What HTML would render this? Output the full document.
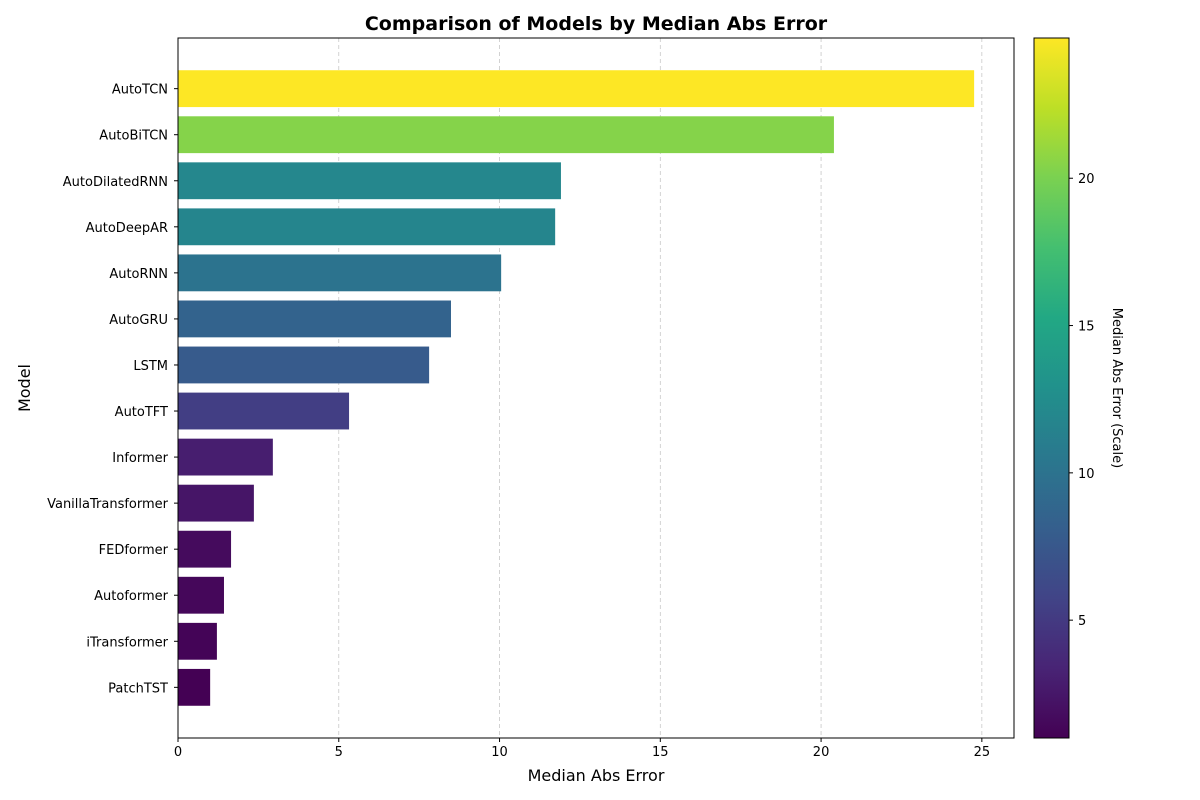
<!DOCTYPE html>
<html><head><meta charset="utf-8"><style>
body{margin:0;background:#fff;}
svg{display:block;font-family:"DejaVu Sans","Liberation Sans",sans-serif;}
</style></head><body>
<svg id="c" width="1200" height="800"></svg>
<script>
const models=["AutoTCN","AutoBiTCN","AutoDilatedRNN","AutoDeepAR","AutoRNN","AutoGRU","LSTM","AutoTFT","Informer","VanillaTransformer","FEDformer","Autoformer","iTransformer","PatchTST"];
const errors=[24.76,20.4,11.91,11.73,10.05,8.49,7.81,5.32,2.95,2.36,1.65,1.43,1.21,1.0];
const xTicks=[0,5,10,15,20,25];
const cbTicks=[5,10,15,20];
const viridis=["#440154","#482475","#414487","#355f8d","#2a788e","#21918c","#22a884","#44bf70","#7ad151","#bddf26","#fde725"];
const NS="http://www.w3.org/2000/svg";
const svg=document.getElementById('c');
function el(t,a,txt){const e=document.createElementNS(NS,t);for(const k in a)e.setAttribute(k,a[k]);if(txt!==undefined)e.textContent=txt;svg.appendChild(e);return e;}
const L=178,R=1014,T=38,B=738,xMax=26;
const xs=v=>L+v*(R-L)/xMax;
const step=(B-T)/(models.length+1.2);
const yc=i=>T+step*(1.1+i);
const vmin=Math.min(...errors),vmax=Math.max(...errors);
function hex(h){return [1,3,5].map(i=>parseInt(h.substr(i,2),16));}
function cmap(t){t=Math.max(0,Math.min(1,t));const p=t*10,i=Math.min(9,Math.floor(p)),f=p-i;const a=hex(viridis[i]),b=hex(viridis[i+1]);return `rgb(${a.map((v,k)=>Math.round(v+(b[k]-v)*f)).join(',')})`;}
xTicks.forEach(v=>{let g=el('line',{x1:xs(v),x2:xs(v),y1:T,y2:B,stroke:'#b0b0b0','stroke-dasharray':'4,3','stroke-width':0.8,opacity:0.7});});
models.forEach((m,i)=>{
 const h=step*0.8;
 let r=el('rect',{x:L,y:yc(i)-h/2,width:xs(errors[i])-L,height:h,fill:cmap((errors[i]-vmin)/(vmax-vmin))});
 
 
 let t=el('text',{x:L-10,y:yc(i)+5,'text-anchor':'end','font-size':13},m);
 
 
 el('line',{x1:L-4,x2:L,y1:yc(i),y2:yc(i),stroke:'#000'});
});
xTicks.forEach(v=>{
 el('line',{x1:xs(v),x2:xs(v),y1:B,y2:B+4,stroke:'#000'});
 let t=el('text',{x:xs(v),y:B+18,'text-anchor':'middle','font-size':13},v);
 
 
});
let fr=el('rect',{x:L,y:T,width:R-L,height:B-T,fill:'none',stroke:'#000','stroke-width':1});

let ti=el('text',{x:(L+R)/2,y:30,'text-anchor':'middle','font-size':19,'font-weight':'bold'},'Comparison of Models by Median Abs Error');

let xt=el('text',{x:(L+R)/2,y:781,'text-anchor':'middle','font-size':16},'Median Abs Error');

let yt=el('text',{x:30,y:388,'text-anchor':'middle','font-size':16,transform:'rotate(-90 30 388)'},'Model');

const CX=1034,CW=35;
const defs=el('defs',{});
const lg=document.createElementNS(NS,'linearGradient');lg.setAttribute('id','vg');lg.setAttribute('x1','0');lg.setAttribute('y1','1');lg.setAttribute('x2','0');lg.setAttribute('y2','0');
viridis.forEach((c,i)=>{const s=document.createElementNS(NS,'stop');s.setAttribute('offset',i/10);s.setAttribute('stop-color',c);lg.appendChild(s);});
defs.appendChild(lg);
let cb=el('rect',{x:CX,y:T,width:CW,height:B-T,fill:'url(#vg)',stroke:'#000','stroke-width':1});

const cy=v=>B-(v-vmin)/(vmax-vmin)*(B-T);
cbTicks.forEach(v=>{
 el('line',{x1:CX+CW,x2:CX+CW+4,y1:cy(v),y2:cy(v),stroke:'#000'});
 let t=el('text',{x:CX+CW+9,y:cy(v)+5,'font-size':13},v);
 
 
});
let ct=el('text',{x:1113,y:388,'text-anchor':'middle','font-size':13,transform:'rotate(90 1113 388)'},'Median Abs Error (Scale)');

</script>
</body></html>
